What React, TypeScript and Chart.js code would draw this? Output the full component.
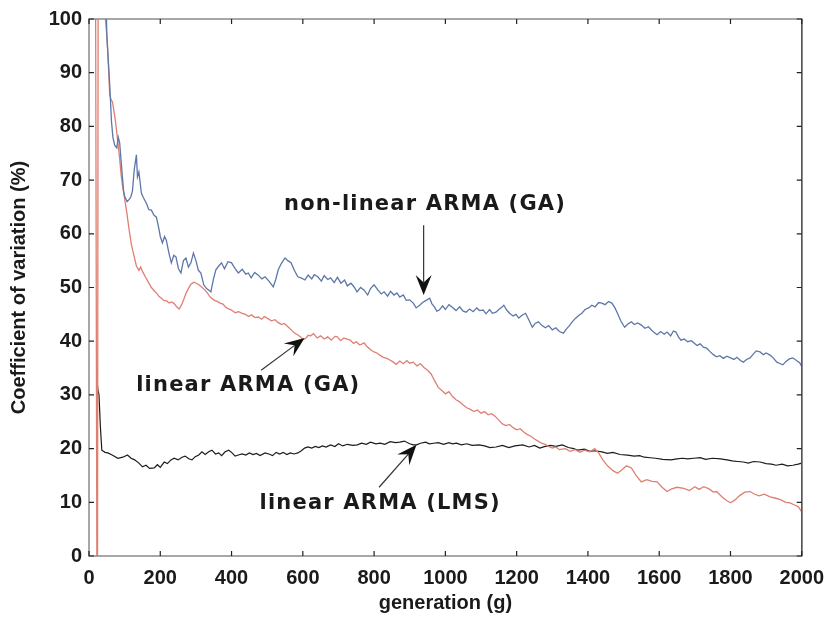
import React, { useEffect, useRef } from "react";
import { Chart, registerables } from "chart.js";

Chart.register(...registerables);

// ---------- axis ticks ----------
const X_TICKS = [0, 200, 400, 600, 800, 1000, 1200, 1400, 1600, 1800, 2000];
const Y_TICKS = [0, 10, 20, 30, 40, 50, 60, 70, 80, 90, 100];

// ---------- series: non-linear ARMA (GA) ----------
const nonlinGaGen = [40, 50, 58, 63, 67, 72, 78, 82, 86, 92, 97, 100, 107, 114, 118, 122, 127, 133, 136, 140, 147, 152, 161, 168, 175, 182, 189, 196, 200, 206, 212, 217, 224, 231, 238, 244, 251, 258, 265, 272, 279, 286, 293, 300, 307, 314, 322, 330, 342, 349, 356, 364, 372, 380, 390, 400, 410, 419, 430, 440, 447, 455, 465, 475, 485, 494, 505, 517, 524, 531, 540, 550, 558, 567, 576, 586, 595, 606, 615, 625, 632, 642, 652, 660, 670, 678, 688, 697, 707, 717, 725, 735, 744, 752, 762, 772, 782, 790, 800, 810, 820, 828, 838, 846, 856, 864, 872, 882, 890, 900, 910, 918, 928, 936, 946, 956, 962, 970, 976, 983, 992, 1000, 1010, 1022, 1030, 1040, 1050, 1058, 1068, 1078, 1088, 1096, 1106, 1114, 1124, 1132, 1142, 1150, 1158, 1164, 1172, 1180, 1190, 1198, 1206, 1214, 1225, 1234, 1244, 1252, 1261, 1270, 1280, 1290, 1300, 1310, 1320, 1331, 1340, 1348, 1356, 1364, 1374, 1383, 1392, 1402, 1411, 1420, 1430, 1439, 1448, 1458, 1467, 1475, 1483, 1492, 1503, 1512, 1522, 1530, 1540, 1550, 1560, 1570, 1578, 1586, 1594, 1604, 1614, 1622, 1632, 1640, 1647, 1654, 1661, 1670, 1680, 1690, 1697, 1706, 1715, 1724, 1733, 1742, 1752, 1761, 1770, 1780, 1790, 1800, 1810, 1818, 1828, 1836, 1845, 1855, 1864, 1872, 1883, 1892, 1900, 1911, 1920, 1930, 1940, 1947, 1955, 1965, 1975, 1985, 1994, 2000];
const nonlinGaCv = [130, 97, 88, 81, 78, 76.5, 76, 78, 77, 72, 68, 67, 66, 66.5, 67, 68, 72, 74.7, 70.6, 71.5, 67.6, 66.8, 65.7, 64.5, 64.4, 63.5, 63.1, 61, 59.5, 58.3, 59.5, 58.8, 56.5, 54.6, 56, 55.7, 53.5, 52.7, 55, 55.5, 53.8, 54.6, 56.4, 55, 53.2, 52.7, 50.5, 49.8, 49.2, 51.5, 53.3, 54, 54.6, 53.5, 54.8, 54.6, 53.5, 52.7, 53.4, 52.5, 52.7, 51.8, 52.8, 52.3, 51.6, 52, 51.2, 50.1, 51.5, 53.3, 54.5, 55.5, 55, 54.6, 53.2, 52, 51.8, 51.4, 52.3, 51.6, 52.4, 52, 51.2, 52.2, 51.5, 51.8, 50.9, 51.9, 50.8, 51.4, 50.3, 50.8, 50.1, 49.2, 50, 49.5, 48.6, 49.8, 50.5, 49.6, 48.8, 49.2, 48.4, 49.3, 48.6, 49, 48.2, 48.6, 47.6, 47.7, 47.1, 46.2, 46.7, 47.2, 47.6, 48, 47, 46.3, 45.6, 45.8, 46.6, 45.9, 46.8, 46.2, 45.7, 46.4, 45.6, 45.4, 46, 45.5, 46.2, 45.7, 45.8, 45.1, 45.9, 45.2, 45.4, 45.9, 46.3, 46.7, 45.8, 45.2, 44.7, 45, 44.3, 44.8, 45.2, 44, 42.6, 43.3, 43.6, 43, 42.5, 42.9, 42.1, 42.5, 41.8, 41.5, 42.3, 42.9, 43.6, 44.2, 44.8, 45.2, 45.9, 46.2, 46.7, 46.4, 47.2, 47.1, 46.8, 47.4, 47.1, 46.3, 45.2, 43.8, 42.6, 43.2, 43.6, 43.1, 43.4, 43, 42.4, 42.7, 42.1, 41.6, 41.2, 41.8, 41.3, 41.7, 41, 41.9, 41.7, 40.8, 40.2, 40.4, 39.9, 40.1, 39.7, 39.2, 39.5, 38.9, 38.7, 38.1, 37.5, 37.1, 37.3, 36.8, 37.2, 36.9, 36.6, 37, 36.4, 36.1, 36.6, 36.9, 37.6, 38.2, 38, 37.5, 37.8, 37.4, 36.9, 36.1, 35.8, 35.6, 36.2, 36.7, 36.9, 36.4, 36, 35.3];

// ---------- series: linear ARMA (GA) ----------
const linGaGen = [0, 18, 22, 24, 26, 40, 46, 50, 54, 58, 62, 66, 72, 76, 81, 86, 90, 94, 100, 106, 112, 119, 126, 133, 140, 145, 150, 158, 165, 175, 183, 190, 197, 203, 210, 218, 225, 232, 239, 246, 253, 260, 266, 272, 278, 286, 294, 301, 308, 316, 324, 332, 338, 344, 352, 360, 368, 376, 384, 392, 400, 410, 420, 430, 439, 448, 456, 466, 475, 484, 492, 502, 512, 522, 530, 540, 548, 558, 566, 575, 585, 594, 600, 608, 615, 622, 630, 640, 650, 660, 670, 680, 690, 697, 706, 715, 724, 733, 742, 750, 760, 772, 780, 790, 800, 808, 816, 826, 836, 844, 852, 862, 872, 882, 892, 900, 910, 920, 930, 940, 950, 960, 970, 980, 990, 1000, 1010, 1020, 1030, 1040, 1050, 1060, 1070, 1080, 1090, 1100, 1110, 1120, 1130, 1140, 1150, 1160, 1170, 1180, 1190, 1200, 1210, 1220, 1230, 1240, 1250, 1260, 1270, 1280, 1290, 1300, 1310, 1320, 1336, 1350, 1364, 1378, 1390, 1405, 1419, 1430, 1442, 1455, 1470, 1483, 1495, 1508, 1522, 1535, 1550, 1565, 1580, 1594, 1608, 1622, 1635, 1650, 1669, 1685, 1700, 1712, 1725, 1740, 1752, 1761, 1775, 1790, 1800, 1812, 1825, 1840, 1855, 1868, 1880, 1895, 1911, 1925, 1940, 1955, 1967, 1980, 1990, 2000];
const linGaCv = [150, 120, 0, 0, 130, 120, 100, 97, 92, 86, 85, 84.5, 82, 80, 77, 74, 71, 69, 66.5, 64, 61, 58, 56, 54, 53.2, 53.8, 53, 52, 51.2, 50, 49.4, 48.9, 48.3, 48, 47.6, 47.5, 47.1, 47.3, 47, 46.4, 46, 46.8, 47.8, 48.9, 49.7, 50.6, 51, 50.8, 50.5, 50.1, 49.6, 49, 48.4, 48, 47.6, 47.4, 47.1, 46.9, 46.3, 46, 45.8, 45.3, 45.5, 45.2, 45, 44.6, 44.9, 44.4, 44.5, 44.1, 44.6, 44.2, 43.8, 44, 43.5, 43.1, 43.3, 42.7, 42.2, 41.6, 41.2, 40.8, 40.3, 40.5, 41.1, 41, 41.4, 40.6, 41, 40.4, 40.8, 40.2, 40.9, 40.8, 40.1, 40.6, 40.4, 40.2, 39.6, 39.9, 39.3, 39.7, 39, 38.4, 38, 37.8, 37.4, 37, 36.8, 36.5, 36.2, 35.7, 36.3, 35.8, 36.4, 35.9, 36.1, 35.4, 35.8, 35.1, 34.6, 33.9, 32.6, 31.4, 30.8, 30.2, 30.6, 29.7, 29.1, 28.7, 28.1, 27.6, 27.3, 26.9, 27.2, 26.6, 26.9, 26.3, 26.5, 26, 25.3, 24.6, 24.3, 24.5, 23.9, 23.5, 23.7, 23.1, 22.6, 22.3, 21.8, 21.4, 21, 20.8, 20.4, 20.1, 20.3, 19.8, 20, 19.5, 19.8, 19.3, 19.7, 19.4, 20, 19.2, 17.9, 16.8, 15.9, 15.4, 16, 16.8, 16.4, 15, 13.8, 14.2, 13.9, 13.8, 12.8, 12, 12.5, 12.8, 12.6, 12.2, 12.9, 12.4, 12.9, 12.5, 11.9, 12, 11.1, 10.3, 9.9, 10.4, 11.2, 11.9, 12, 11.5, 11.2, 11.5, 11, 10.8, 10.5, 10, 9.9, 9.5, 9.2, 8.2];

// ---------- series: linear ARMA (LMS) ----------
const linLmsGen = [22, 25, 28, 32, 36, 45, 53, 65, 81, 95, 108, 118, 128, 140, 150, 160, 170, 183, 192, 200, 211, 220, 230, 239, 250, 261, 270, 280, 289, 298, 308, 317, 326, 336, 345, 355, 364, 372, 382, 392, 400, 410, 419, 430, 440, 450, 460, 470, 480, 494, 505, 515, 525, 535, 545, 555, 565, 575, 586, 596, 605, 614, 625, 635, 645, 655, 665, 678, 690, 700, 712, 725, 740, 753, 765, 778, 790, 805, 817, 830, 845, 860, 872, 885, 900, 910, 919, 930, 945, 955, 967, 980, 995, 1010, 1020, 1031, 1045, 1060, 1075, 1094, 1110, 1125, 1142, 1160, 1178, 1195, 1217, 1235, 1250, 1265, 1280, 1295, 1310, 1328, 1345, 1360, 1372, 1390, 1405, 1420, 1439, 1455, 1470, 1490, 1511, 1530, 1545, 1558, 1575, 1590, 1610, 1633, 1650, 1665, 1680, 1697, 1715, 1730, 1750, 1772, 1790, 1805, 1820, 1836, 1850, 1865, 1883, 1900, 1915, 1928, 1945, 1960, 1975, 1990, 2000];
const linLmsCv = [33, 31, 30, 24, 19.7, 19.3, 19.2, 18.8, 18.2, 18.4, 18.8, 18.2, 17.9, 17.3, 16.6, 16.9, 16.3, 16.4, 17, 16.5, 17.5, 17.2, 17.9, 18.2, 17.9, 18.4, 18.6, 18.1, 17.9, 18.5, 18.8, 19.4, 18.9, 19.4, 19.7, 19, 19.2, 18.7, 19.4, 19.7, 19.3, 18.6, 18.8, 19, 18.8, 19.2, 18.9, 19.1, 18.7, 19.2, 19, 18.7, 19.3, 19, 19.3, 18.9, 19.2, 19, 19.2, 19.6, 20.1, 20.3, 20.1, 20.4, 20.2, 20.5, 20.3, 20.7, 20.4, 20.9, 20.5, 20.8, 20.6, 20.7, 21, 20.8, 21.2, 20.9, 21, 20.8, 21.3, 21.1, 21.2, 21.4, 20.9, 20.7, 20.7, 21, 21.2, 20.9, 21, 21.1, 20.8, 21.1, 20.9, 21, 20.7, 20.9, 20.6, 20.7, 20.5, 20.2, 20.3, 20.6, 20.2, 20.5, 20.7, 20.3, 20.6, 20.1, 20.4, 20.6, 20.4, 20.7, 20.2, 20, 19.7, 19.9, 19.5, 19.6, 19.4, 19.1, 19.3, 18.9, 18.8, 18.6, 18.7, 18.4, 18.3, 18.2, 18, 17.9, 18.1, 18.2, 18.1, 18.2, 18.3, 18, 18.2, 18.1, 17.9, 17.7, 17.6, 17.5, 17.3, 17.6, 17.5, 17.2, 17.1, 16.9, 17.1, 16.8, 16.9, 17.1, 17.3];

// ---------- annotation labels ----------
const LABEL_TEXTS = ["non-linear ARMA (GA)", "linear ARMA (GA)", "linear ARMA (LMS)"];
// label centre and arrow tail/tip, in data units (generation, %)
const LABEL_AT = [[943, 65.4], [447, 31.7], [817, 9.8]];
const ARROW_FROM = [[939, 61.6], [483, 34.6], [814, 12.8]];
const ARROW_TO = [[939, 48.6], [605, 40.6], [919, 20.7]];

const AXIS_FONT = '"Liberation Sans", Arial, sans-serif';
const LABEL_FONT = '"DejaVu Sans", Verdana, sans-serif';

const pts = (xs: number[], ys: number[]) => xs.map((x, i) => ({ x, y: ys[i] }));

const framePlugin = {
  id: "frame",
  afterDatasetsDraw(chart: any) {
    const { ctx, chartArea: a, scales } = chart;
    const xs = scales.x;
    const ys = scales.y;
    ctx.save();
    // box
    ctx.strokeStyle = "#8a8a8a";
    ctx.lineWidth = 1.5;
    ctx.strokeRect(a.left, a.top, a.right - a.left, a.bottom - a.top);
    ctx.strokeStyle = "#555";
    ctx.beginPath();
    ctx.moveTo(a.right, a.top);
    ctx.lineTo(a.right, a.bottom);
    ctx.stroke();
    // inward ticks
    ctx.strokeStyle = "#222";
    ctx.lineWidth = 1.2;
    const tl = 5;
    ctx.beginPath();
    X_TICKS.forEach((v) => {
      const px = xs.getPixelForValue(v);
      ctx.moveTo(px, a.bottom);
      ctx.lineTo(px, a.bottom - tl);
      ctx.moveTo(px, a.top);
      ctx.lineTo(px, a.top + tl);
    });
    Y_TICKS.forEach((v) => {
      const py = ys.getPixelForValue(v);
      ctx.moveTo(a.left, py);
      ctx.lineTo(a.left + tl, py);
      ctx.moveTo(a.right, py);
      ctx.lineTo(a.right - tl, py);
    });
    ctx.stroke();

    // labels
    ctx.fillStyle = "#1a1a1a";
    ctx.font = `bold 21px ${LABEL_FONT}`;
    ctx.textAlign = "center";
    ctx.textBaseline = "middle";
    try {
      (ctx as any).letterSpacing = "1.2px";
    } catch (e) {}
    LABEL_TEXTS.forEach((t, i) => {
      const [gx, gy] = LABEL_AT[i];
      ctx.fillText(t, xs.getPixelForValue(gx), ys.getPixelForValue(gy));
    });
    try {
      (ctx as any).letterSpacing = "0px";
    } catch (e) {}

    // arrows
    ARROW_FROM.forEach((f, i) => {
      const x0 = xs.getPixelForValue(f[0]);
      const y0 = ys.getPixelForValue(f[1]);
      const x1 = xs.getPixelForValue(ARROW_TO[i][0]);
      const y1 = ys.getPixelForValue(ARROW_TO[i][1]);
      const ang = Math.atan2(y1 - y0, x1 - x0);
      const len = 20;
      const half = 8;
      const ux = Math.cos(ang);
      const uy = Math.sin(ang);
      const bx = x1 - ux * len;
      const by = y1 - uy * len;
      const nx = x1 - ux * len * 0.62;
      const ny = y1 - uy * len * 0.62;
      ctx.strokeStyle = "#333";
      ctx.lineWidth = 1.2;
      ctx.beginPath();
      ctx.moveTo(x0, y0);
      ctx.lineTo(nx, ny);
      ctx.stroke();
      ctx.fillStyle = "#111";
      ctx.beginPath();
      ctx.moveTo(x1, y1);
      ctx.lineTo(bx - uy * half, by + ux * half);
      ctx.lineTo(nx, ny);
      ctx.lineTo(bx + uy * half, by - ux * half);
      ctx.closePath();
      ctx.fill();
    });
    ctx.restore();
  },
};

export default function App() {
  const ref = useRef<HTMLCanvasElement | null>(null);
  useEffect(() => {
    if (!ref.current) return;
    const chart = new Chart(ref.current, {
      type: "line",
      data: {
        datasets: [
          {
            label: "non-linear ARMA (GA)",
            data: pts(nonlinGaGen, nonlinGaCv),
            borderColor: "#5d77a8",
            borderWidth: 1.3,
            pointRadius: 0,
            tension: 0,
          },
          {
            label: "linear ARMA (GA)",
            data: pts(linGaGen, linGaCv),
            borderColor: "#df7f72",
            borderWidth: 1.3,
            pointRadius: 0,
            tension: 0,
          },
          {
            label: "linear ARMA (LMS)",
            data: pts(linLmsGen, linLmsCv),
            borderColor: "#1c1c1c",
            borderWidth: 1.2,
            pointRadius: 0,
            tension: 0,
          },
        ],
      },
      options: {
        responsive: false,
        animation: false,
        events: [],
        layout: { padding: { left: 0, top: 19, right: 25, bottom: 0 } },
        plugins: { legend: { display: false }, tooltip: { enabled: false } },
        scales: {
          x: {
            type: "linear",
            min: 0,
            max: 2000,
            grid: { display: false, drawTicks: false },
            border: { display: false },
            afterBuildTicks: (s: any) => {
              s.ticks = X_TICKS.map((v) => ({ value: v }));
            },
            afterFit: (s: any) => {
              s.height = 63;
            },
            ticks: {
              padding: 10,
              color: "#1a1a1a",
              maxRotation: 0,
              autoSkip: false,
              callback: (v: any) => String(v),
              font: { family: AXIS_FONT, size: 20, weight: "bold" },
            },
            title: {
              display: true,
              text: "generation (g)",
              color: "#1a1a1a",
              padding: { top: 0, bottom: 4 },
              font: { family: AXIS_FONT, size: 20, weight: "bold" },
            },
          },
          y: {
            type: "linear",
            min: 0,
            max: 100,
            grid: { display: false, drawTicks: false },
            border: { display: false },
            afterBuildTicks: (s: any) => {
              s.ticks = Y_TICKS.map((v) => ({ value: v }));
            },
            afterFit: (s: any) => {
              s.width = 89;
            },
            ticks: {
              padding: 7,
              color: "#1a1a1a",
              autoSkip: false,
              callback: (v: any) => String(v),
              font: { family: AXIS_FONT, size: 20, weight: "bold" },
            },
            title: {
              display: true,
              text: "Coefficient of variation (%)",
              color: "#1a1a1a",
              padding: { top: 7, bottom: 0 },
              font: { family: AXIS_FONT, size: 20, weight: "bold" },
            },
          },
        },
      },
      plugins: [framePlugin],
    } as any);
    return () => chart.destroy();
  }, []);
  return (
    <div style={{ position: "fixed", left: 0, top: 0, width: 834, height: 619, background: "#fff" }}>
      <canvas ref={ref} width={834} height={619} style={{ display: "block" }} />
    </div>
  );
}
